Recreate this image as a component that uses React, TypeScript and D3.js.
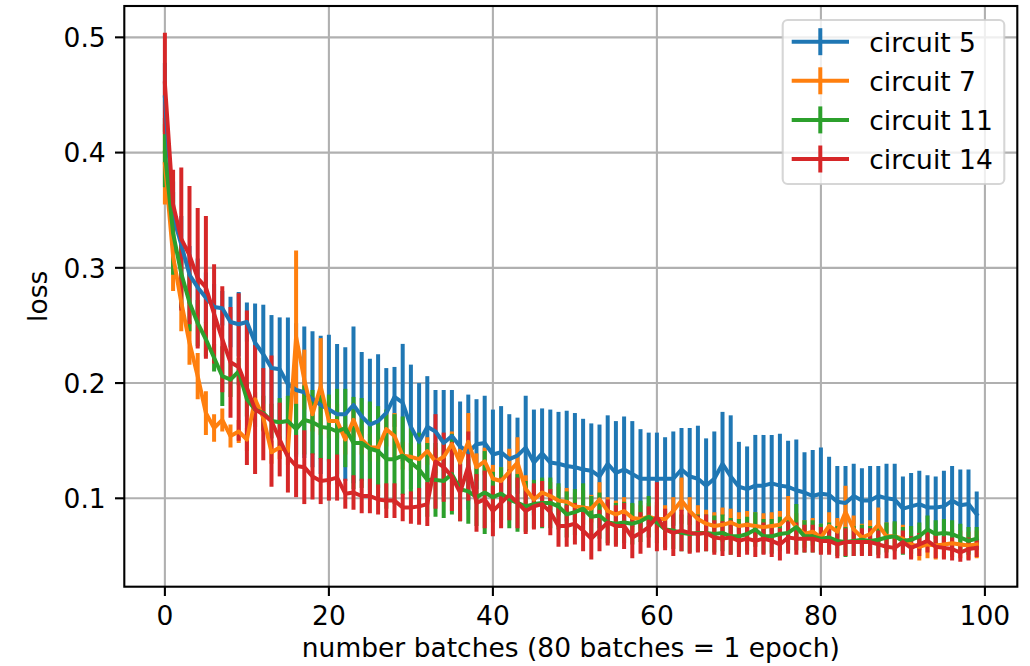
import React from 'react';
import * as d3 from 'd3';

const batches: number[] = Array.from({ length: 100 }, (_, i) => i);

const seriesNames = ['circuit 5', 'circuit 7', 'circuit 11', 'circuit 14'];
const seriesColors = ['#1f77b4', '#ff7f0e', '#2ca02c', '#d62728'];

const c5Mean = [
  0.448, 0.345, 0.320, 0.294, 0.283, 0.274, 0.266, 0.265, 0.253, 0.251,
  0.253, 0.235, 0.225, 0.213, 0.212, 0.199, 0.194, 0.192, 0.186, 0.181,
  0.177, 0.173, 0.173, 0.181, 0.171, 0.164, 0.167, 0.174, 0.188, 0.183,
  0.162, 0.149, 0.162, 0.158, 0.148, 0.154, 0.145, 0.140, 0.147, 0.148,
  0.138, 0.140, 0.134, 0.137, 0.144, 0.131, 0.139, 0.131, 0.130, 0.128,
  0.127, 0.125, 0.124, 0.119, 0.130, 0.122, 0.125, 0.121, 0.117, 0.117,
  0.117, 0.117, 0.117, 0.125, 0.119, 0.117, 0.111, 0.117, 0.130, 0.119,
  0.110, 0.108, 0.111, 0.111, 0.113, 0.111, 0.110, 0.107, 0.105, 0.102,
  0.104, 0.103, 0.097, 0.096, 0.102, 0.098, 0.098, 0.102, 0.100, 0.099,
  0.091, 0.093, 0.095, 0.092, 0.092, 0.093, 0.098, 0.094, 0.095, 0.086,
];
const c5Err = [
  0.030, 0.030, 0.025, 0.025, 0.025, 0.022, 0.020, 0.015, 0.022, 0.028,
  0.017, 0.034, 0.043, 0.046, 0.045, 0.058, 0.058, 0.057, 0.059, 0.060,
  0.065, 0.061, 0.058, 0.068, 0.056, 0.057, 0.058, 0.039, 0.026, 0.051,
  0.054, 0.051, 0.044, 0.036, 0.046, 0.040, 0.039, 0.050, 0.039, 0.041,
  0.039, 0.040, 0.039, 0.033, 0.045, 0.046, 0.039, 0.046, 0.045, 0.048,
  0.047, 0.044, 0.041, 0.045, 0.042, 0.045, 0.046, 0.046, 0.043, 0.040,
  0.040, 0.036, 0.041, 0.036, 0.042, 0.046, 0.041, 0.041, 0.045, 0.053,
  0.039, 0.037, 0.044, 0.044, 0.042, 0.045, 0.040, 0.044, 0.035, 0.040,
  0.040, 0.033, 0.031, 0.032, 0.028, 0.028, 0.030, 0.026, 0.030, 0.031,
  0.028, 0.029, 0.029, 0.028, 0.027, 0.031, 0.030, 0.031, 0.030, 0.020,
];

const c7Mean = [
  0.390, 0.310, 0.270, 0.235, 0.206, 0.174, 0.161, 0.168, 0.154, 0.158,
  0.151, 0.186, 0.170, 0.140, 0.144, 0.141, 0.240, 0.203, 0.173, 0.197,
  0.167, 0.167, 0.151, 0.168, 0.151, 0.144, 0.144, 0.160, 0.154, 0.137,
  0.136, 0.134, 0.141, 0.132, 0.136, 0.147, 0.131, 0.149, 0.127, 0.132,
  0.117, 0.115, 0.123, 0.131, 0.108, 0.099, 0.105, 0.102, 0.098, 0.097,
  0.093, 0.092, 0.091, 0.099, 0.089, 0.086, 0.089, 0.083, 0.082, 0.084,
  0.082, 0.082, 0.089, 0.098, 0.089, 0.082, 0.078, 0.076, 0.077, 0.079,
  0.076, 0.077, 0.076, 0.075, 0.076, 0.077, 0.084, 0.075, 0.069, 0.071,
  0.066, 0.076, 0.071, 0.088, 0.073, 0.066, 0.069, 0.077, 0.067, 0.067,
  0.065, 0.060, 0.058, 0.060, 0.059, 0.060, 0.061, 0.060, 0.059, 0.060,
];
const c7Err = [
  0.035, 0.030, 0.025, 0.019, 0.020, 0.019, 0.012, 0.010, 0.010, 0.010,
  0.010, 0.012, 0.012, 0.010, 0.010, 0.012, 0.075, 0.026, 0.015, 0.042,
  0.015, 0.015, 0.013, 0.015, 0.013, 0.012, 0.012, 0.015, 0.020, 0.012,
  0.012, 0.012, 0.012, 0.012, 0.012, 0.011, 0.012, 0.025, 0.012, 0.012,
  0.012, 0.012, 0.020, 0.022, 0.012, 0.012, 0.012, 0.012, 0.012, 0.012,
  0.012, 0.015, 0.012, 0.015, 0.012, 0.012, 0.012, 0.012, 0.012, 0.012,
  0.012, 0.012, 0.012, 0.020, 0.012, 0.012, 0.012, 0.012, 0.015, 0.012,
  0.012, 0.012, 0.012, 0.012, 0.012, 0.012, 0.018, 0.012, 0.012, 0.012,
  0.012, 0.012, 0.012, 0.023, 0.012, 0.012, 0.012, 0.015, 0.012, 0.012,
  0.012, 0.012, 0.012, 0.012, 0.012, 0.012, 0.012, 0.012, 0.012, 0.012,
];

const c11Mean = [
  0.400, 0.330, 0.295, 0.270, 0.252, 0.238, 0.222, 0.206, 0.203, 0.210,
  0.186, 0.177, 0.174, 0.167, 0.166, 0.167, 0.160, 0.168, 0.166, 0.162,
  0.161, 0.158, 0.161, 0.148, 0.148, 0.143, 0.141, 0.134, 0.134, 0.137,
  0.131, 0.125, 0.116, 0.116, 0.115, 0.121, 0.108, 0.106, 0.101, 0.105,
  0.101, 0.104, 0.099, 0.096, 0.093, 0.095, 0.096, 0.096, 0.093, 0.086,
  0.088, 0.091, 0.084, 0.085, 0.079, 0.078, 0.079, 0.078, 0.080, 0.084,
  0.079, 0.073, 0.072, 0.070, 0.069, 0.070, 0.070, 0.069, 0.070, 0.067,
  0.067, 0.069, 0.073, 0.067, 0.067, 0.069, 0.070, 0.075, 0.067, 0.067,
  0.065, 0.066, 0.063, 0.062, 0.063, 0.064, 0.063, 0.064, 0.066, 0.067,
  0.063, 0.064, 0.067, 0.073, 0.069, 0.070, 0.069, 0.066, 0.063, 0.065,
];
const c11Err = [
  0.030, 0.036, 0.030, 0.025, 0.020, 0.015, 0.012, 0.026, 0.015, 0.012,
  0.015, 0.015, 0.015, 0.015, 0.021, 0.022, 0.022, 0.030, 0.028, 0.028,
  0.029, 0.037, 0.034, 0.040, 0.039, 0.041, 0.039, 0.043, 0.039, 0.034,
  0.031, 0.032, 0.032, 0.032, 0.032, 0.035, 0.028, 0.028, 0.025, 0.036,
  0.022, 0.023, 0.025, 0.025, 0.022, 0.021, 0.022, 0.022, 0.020, 0.020,
  0.020, 0.022, 0.018, 0.020, 0.018, 0.018, 0.018, 0.018, 0.018, 0.018,
  0.018, 0.016, 0.016, 0.016, 0.016, 0.016, 0.016, 0.016, 0.016, 0.016,
  0.015, 0.015, 0.015, 0.015, 0.015, 0.015, 0.015, 0.020, 0.014, 0.014,
  0.013, 0.013, 0.013, 0.013, 0.013, 0.013, 0.013, 0.013, 0.013, 0.013,
  0.012, 0.012, 0.012, 0.012, 0.012, 0.012, 0.012, 0.012, 0.012, 0.010,
];

const c14Mean = [
  0.460, 0.355, 0.325, 0.311, 0.291, 0.283, 0.260, 0.238, 0.218, 0.214,
  0.196, 0.177, 0.173, 0.167, 0.151, 0.136, 0.128, 0.127, 0.119, 0.115,
  0.116, 0.118, 0.104, 0.105, 0.102, 0.102, 0.099, 0.098, 0.098, 0.092,
  0.092, 0.093, 0.095, 0.132, 0.127, 0.119, 0.105, 0.128, 0.096, 0.099,
  0.089, 0.096, 0.103, 0.096, 0.089, 0.093, 0.095, 0.088, 0.076, 0.076,
  0.078, 0.072, 0.065, 0.072, 0.079, 0.076, 0.076, 0.066, 0.070, 0.075,
  0.084, 0.073, 0.070, 0.072, 0.070, 0.069, 0.070, 0.066, 0.065, 0.066,
  0.063, 0.065, 0.063, 0.065, 0.063, 0.060, 0.066, 0.065, 0.065, 0.065,
  0.063, 0.063, 0.060, 0.062, 0.062, 0.062, 0.062, 0.060, 0.058, 0.057,
  0.062, 0.057, 0.060, 0.063, 0.058, 0.057, 0.056, 0.053, 0.056, 0.057,
];
const c14Err = [
  0.044, 0.030, 0.062, 0.060, 0.061, 0.062, 0.043, 0.046, 0.048, 0.064,
  0.067, 0.056, 0.040, 0.057, 0.032, 0.031, 0.027, 0.032, 0.020, 0.020,
  0.018, 0.020, 0.013, 0.015, 0.015, 0.015, 0.013, 0.015, 0.015, 0.012,
  0.014, 0.016, 0.019, 0.041, 0.030, 0.030, 0.025, 0.030, 0.025, 0.025,
  0.022, 0.022, 0.022, 0.022, 0.020, 0.020, 0.020, 0.020, 0.018, 0.018,
  0.018, 0.018, 0.018, 0.018, 0.020, 0.018, 0.020, 0.018, 0.018, 0.018,
  0.030, 0.018, 0.020, 0.018, 0.018, 0.016, 0.016, 0.015, 0.015, 0.015,
  0.014, 0.014, 0.014, 0.014, 0.014, 0.014, 0.014, 0.014, 0.012, 0.012,
  0.012, 0.012, 0.012, 0.012, 0.012, 0.012, 0.012, 0.012, 0.010, 0.010,
  0.010, 0.010, 0.010, 0.010, 0.010, 0.010, 0.010, 0.008, 0.010, 0.008,
];

const xTicks = [0, 20, 40, 60, 80, 100];
const yTicks = [0.1, 0.2, 0.3, 0.4, 0.5];
const xLabel = 'number batches (80 batches = 1 epoch)';
const yLabel = 'loss';

const W = 1030;
const H = 666;
const L = 124.3, R = 1017.3, T = 6, B = 586.7;
const FONT = '"DejaVu Sans", sans-serif';
const FS = 26.5;
const LW = 4.0;
const GRID = 2.1;
const TICK = 9.3;

export default function App() {
  const x = d3.scaleLinear().domain([-4.95, 103.95]).range([L, R]);
  const y = d3.scaleLinear().domain([0.0233, 0.5272]).range([B, T]);
  const means = [c5Mean, c7Mean, c11Mean, c14Mean];
  const errs = [c5Err, c7Err, c11Err, c14Err];
  const line = d3
    .line<number>()
    .x((_, i) => x(batches[i]))
    .y((d) => y(d));

  return (
    <svg
      width={W}
      height={H}
      style={{ position: 'absolute', left: 0, top: 0, background: '#fff' }}
      fontFamily={FONT}
    >
      <defs>
        <clipPath id="plotclip">
          <rect x={L} y={T} width={R - L} height={B - T} />
        </clipPath>
      </defs>
      <rect x={0} y={0} width={W} height={H} fill="#fff" />
      {/* grid */}
      <g stroke="#b0b0b0" strokeWidth={GRID}>
        {xTicks.map((t) => (
          <line key={'gx' + t} x1={x(t)} x2={x(t)} y1={T} y2={B} />
        ))}
        {yTicks.map((t) => (
          <line key={'gy' + t} x1={L} x2={R} y1={y(t)} y2={y(t)} />
        ))}
      </g>
      <g clipPath="url(#plotclip)">
        {/* error bars first (all series), then lines */}
        {means.map((m, s) => (
          <g key={'eb' + s} stroke={seriesColors[s]} strokeWidth={LW}>
            {m.map((v, i) => (
              <line
                key={i}
                x1={x(batches[i])}
                x2={x(batches[i])}
                y1={y(v - errs[s][i])}
                y2={y(v + errs[s][i])}
              />
            ))}
          </g>
        ))}
        {means.map((m, s) => (
          <path
            key={'ln' + s}
            d={line(m) || ''}
            fill="none"
            stroke={seriesColors[s]}
            strokeWidth={LW}
            strokeLinejoin="round"
            strokeLinecap="square"
          />
        ))}
      </g>
      {/* spines */}
      <rect x={L} y={T} width={R - L} height={B - T} fill="none" stroke="#000" strokeWidth={GRID} strokeLinejoin="miter" />
      {/* x ticks */}
      <g>
        {xTicks.map((t) => (
          <g key={'xt' + t}>
            <line x1={x(t)} x2={x(t)} y1={B} y2={B + TICK} stroke="#000" strokeWidth={GRID} />
            <text x={x(t)} y={624.5} fontSize={FS} textAnchor="middle" fill="#000">
              {t}
            </text>
          </g>
        ))}
      </g>
      {/* y ticks */}
      <g>
        {yTicks.map((t) => (
          <g key={'yt' + t}>
            <line x1={L - TICK} x2={L} y1={y(t)} y2={y(t)} stroke="#000" strokeWidth={GRID} />
            <text x={L - TICK - 9.3} y={y(t) + 9.8} fontSize={FS} textAnchor="end" fill="#000">
              {t.toFixed(1)}
            </text>
          </g>
        ))}
      </g>
      <text x={(L + R) / 2} y={657} fontSize={FS} textAnchor="middle" fill="#000">
        {xLabel}
      </text>
      <text
        transform={`translate(47,${(T + B) / 2}) rotate(-90)`}
        fontSize={FS}
        textAnchor="middle"
        fill="#000"
      >
        {yLabel}
      </text>
      {/* legend */}
      <g>
        <rect
          x={782.7}
          y={20}
          width={221.6}
          height={164}
          rx={5}
          ry={5}
          fill="#fff"
          fillOpacity={0.8}
          stroke="#cccccc"
          strokeOpacity={0.8}
          strokeWidth={2.1}
        />
        {seriesNames.map((name, s) => {
          const cy = 41.7 + s * 39.1;
          return (
            <g key={'lg' + s}>
              <line x1={791.7} x2={849} y1={cy} y2={cy} stroke={seriesColors[s]} strokeWidth={LW} />
              <line x1={820.3} x2={820.3} y1={cy - 13.5} y2={cy + 13.5} stroke={seriesColors[s]} strokeWidth={LW} />
              <text x={869.3} y={cy + 9.8} fontSize={FS} fill="#000">
                {name}
              </text>
            </g>
          );
        })}
      </g>
    </svg>
  );
}
